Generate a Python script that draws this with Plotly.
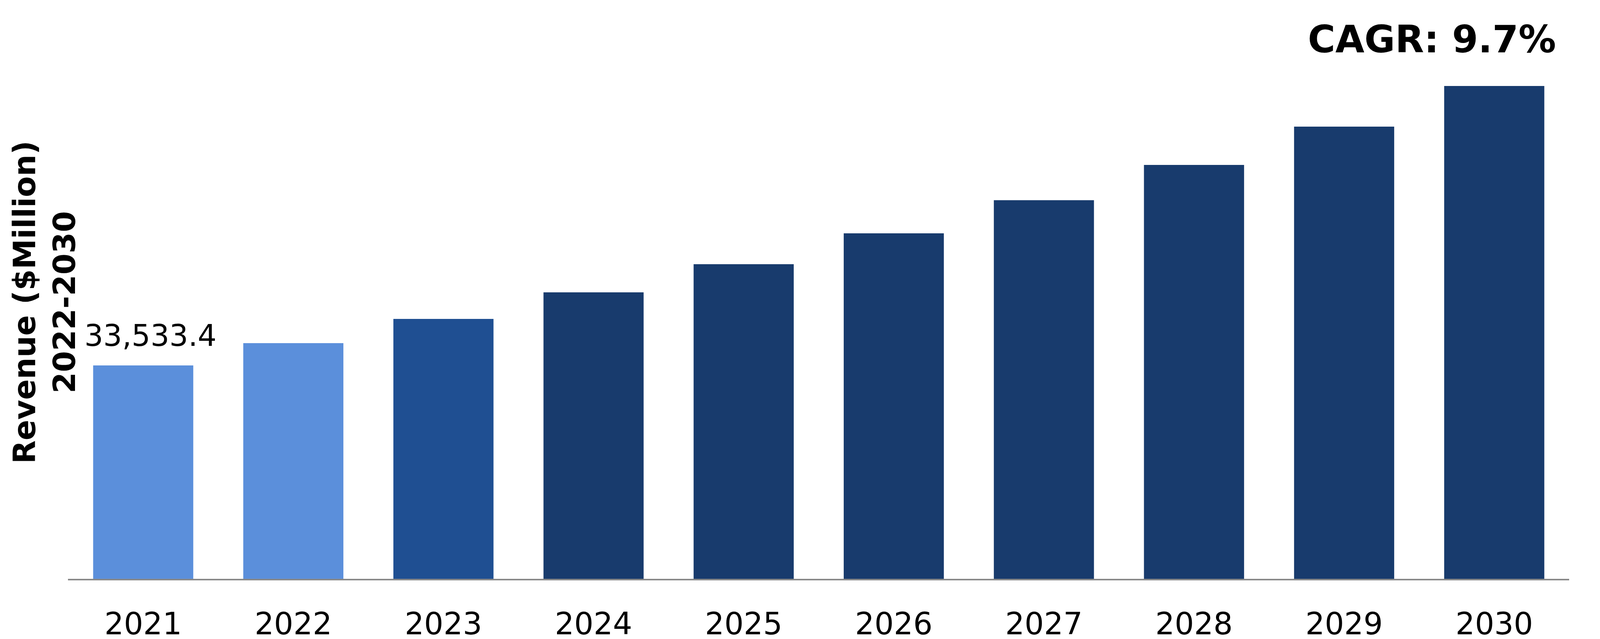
import plotly.graph_objects as go

# Revenue ($ Million)
years = ["2021", "2022", "2023", "2024", "2025", "2026", "2027", "2028", "2029", "2030"]
revenue = [33533.4, 37030, 40840, 45020, 49440, 54290, 59510, 65040, 71060, 77450]
bar_colors = ["#5b8fdb", "#5b8fdb", "#1f4f92", "#183b6d", "#183b6d",
              "#183b6d", "#183b6d", "#183b6d", "#183b6d", "#183b6d"]
first_label = "33,533.4"
cagr_text = "CAGR: 9.7%"
y_title = "Revenue ($Million)<br>2022-2030"

FONT = "DejaVu Sans"

fig = go.Figure()
fig.add_trace(go.Bar(
    x=years,
    y=revenue,
    marker=dict(color=bar_colors, line=dict(width=0)),
    width=0.667,
    hoverinfo="x+y",
))

# value label above the first bar (x as category index: the year
# strings look numeric and would otherwise be read as positions)
fig.add_annotation(
    x=0, y=revenue[0], text=first_label,
    showarrow=False, xanchor="center", yanchor="bottom",
    xshift=18, yshift=30,
    font=dict(family=FONT, size=76, color="#000000"),
)

# CAGR callout, top right
fig.add_annotation(
    xref="paper", yref="paper", x=0.975, y=0.943,
    text="<b>" + cagr_text + "</b>", showarrow=False,
    xanchor="right", yanchor="middle",
    font=dict(family=FONT, size=96, color="#000000"),
)

# y axis title as a rotated annotation at the left edge
fig.add_annotation(
    xref="paper", yref="paper", x=0.002, y=0.532,
    text="<b>" + y_title + "</b>", showarrow=False,
    textangle=-90, xanchor="left", yanchor="middle",
    font=dict(family=FONT, size=78, color="#000000"),
)

# layout is given as fractions of the page so it follows the window size
fig.update_layout(
    autosize=True,
    margin=dict(l=0, r=0, t=0, b=0),
    paper_bgcolor="white",
    plot_bgcolor="white",
    showlegend=False,
    bargap=0.333,
    xaxis=dict(
        type="category",
        domain=[0.0408, 0.9827],
        range=[-0.5, len(years) - 0.5],
        showline=True, linecolor="#898989", linewidth=4,
        showgrid=False, zeroline=False,
        ticks="outside", ticklen=44, tickcolor="rgba(0,0,0,0)",
        tickfont=dict(family=FONT, size=78, color="#000000"),
    ),
    yaxis=dict(
        domain=[0.0991, 0.9388],
        range=[0, 84330], visible=False,
        showgrid=False, zeroline=False,
    ),
)

fig.write_html("out.html", default_width="100%", default_height="100vh")
